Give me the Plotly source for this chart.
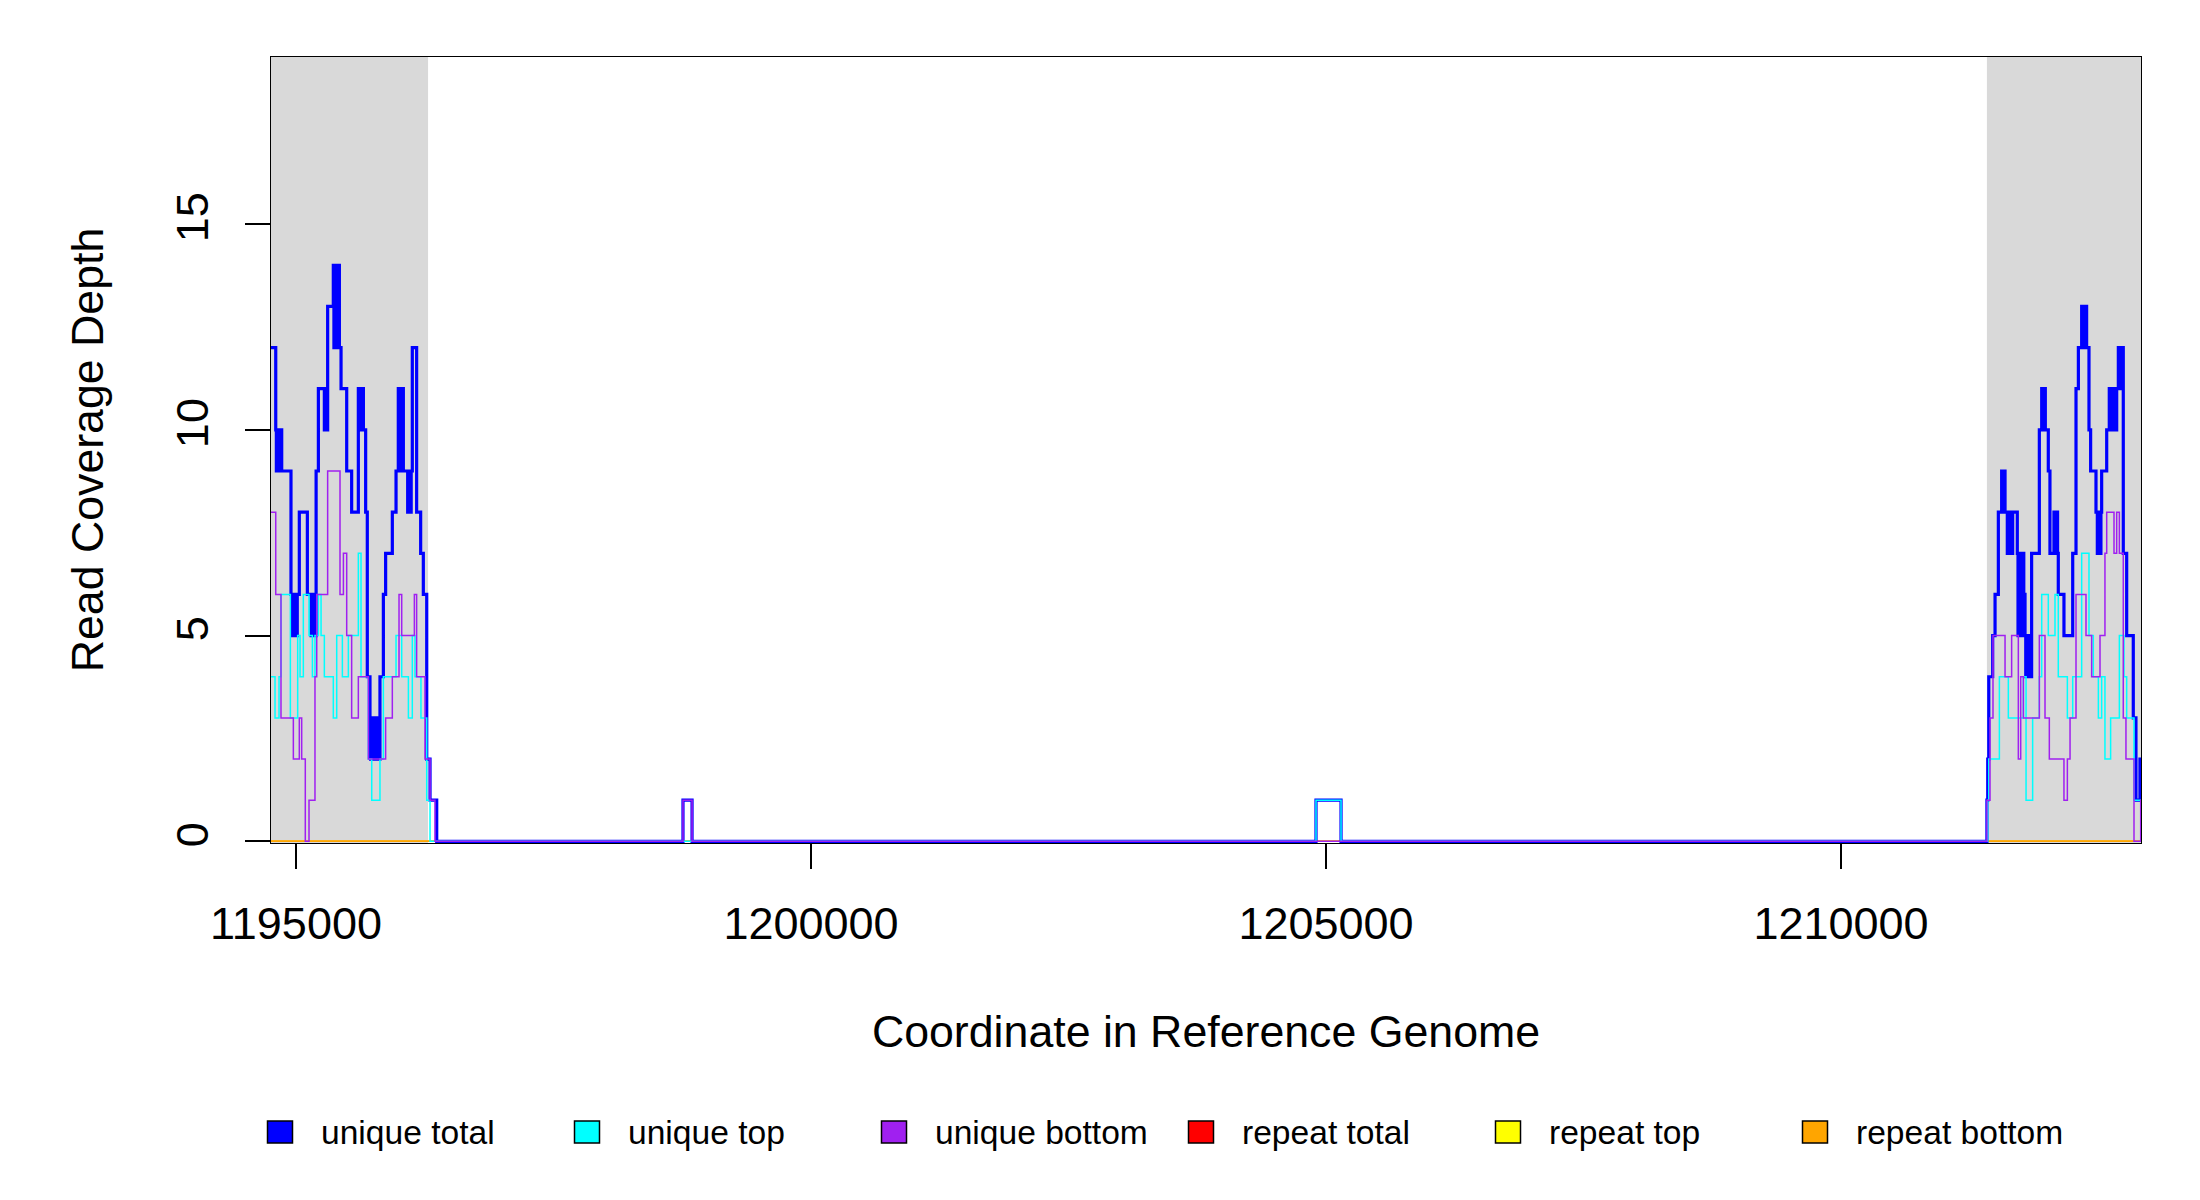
import plotly.graph_objects as go

# coverage steps (position where the depth changes, depth from there on)
unique_total_x = [
    1194757, 1194803, 1194809, 1194815, 1194821, 1194828, 1194834, 1194840, 1194847, 1194853,
    1194861, 1194951, 1194958, 1194965, 1194972, 1194980, 1194988, 1194996, 1195004, 1195012,
    1195032, 1195110, 1195146, 1195152, 1195158, 1195165, 1195172, 1195179, 1195186, 1195195,
    1195217, 1195275, 1195281, 1195287, 1195294, 1195300, 1195307, 1195362, 1195368, 1195374,
    1195380, 1195387, 1195394, 1195401, 1195408, 1195414, 1195421, 1195437, 1195492, 1195540,
    1195605, 1195611, 1195617, 1195624, 1195630, 1195637, 1195643, 1195654, 1195676, 1195692,
    1195718, 1195724, 1195731, 1195738, 1195745, 1195752, 1195759, 1195766, 1195773, 1195780,
    1195787, 1195794, 1195801, 1195808, 1195815, 1195848, 1195870, 1195935, 1195971, 1195993,
    1195999, 1196006, 1196013, 1196020, 1196027, 1196034, 1196042, 1196084, 1196090, 1196097,
    1196104, 1196111, 1196118, 1196129, 1196171, 1196210, 1196236, 1196269, 1196301, 1196366,
    1198757, 1198845, 1204903, 1205146,
    1211417, 1211425, 1211435, 1211473, 1211496, 1211528, 1211560, 1211566, 1211572, 1211579,
    1211586, 1211593, 1211615, 1211622, 1211629, 1211636, 1211643, 1211650, 1211657, 1211667,
    1211712, 1211719, 1211726, 1211733, 1211740, 1211747, 1211754, 1211761, 1211768, 1211775,
    1211781, 1211787, 1211794, 1211801, 1211808, 1211815, 1211822, 1211829, 1211835, 1211851,
    1211926, 1211949, 1211956, 1211963, 1211970, 1211977, 1211984, 1212013, 1212029, 1212068,
    1212075, 1212082, 1212089, 1212096, 1212103, 1212110, 1212165, 1212250, 1212282, 1212305,
    1212337, 1212344, 1212351, 1212358, 1212365, 1212372, 1212379, 1212385, 1212408, 1212424,
    1212476, 1212489, 1212496, 1212503, 1212510, 1212517, 1212524, 1212531, 1212580, 1212605,
    1212612, 1212619, 1212626, 1212633, 1212640, 1212647, 1212654, 1212661, 1212668, 1212677,
    1212693, 1212700, 1212707, 1212714, 1212721, 1212728, 1212734, 1212741, 1212774, 1212838,
    1212864, 1212903, 1212913,
]
unique_total_y = [
    12, 10, 9, 10, 9, 10, 9, 10, 9, 10,
    9, 6, 5, 6, 5, 6, 5, 6, 5, 6,
    8, 6, 5, 6, 5, 6, 5, 6, 5, 9,
    11, 10, 11, 10, 11, 10, 13, 14, 12, 14,
    12, 14, 12, 14, 12, 14, 12, 11, 9, 8,
    11, 10, 11, 10, 11, 10, 11, 10, 8, 4,
    3, 2, 3, 2, 3, 2, 3, 2, 3, 2,
    3, 2, 3, 2, 4, 6, 7, 8, 9, 11,
    9, 11, 9, 11, 9, 11, 9, 8, 9, 8,
    9, 8, 9, 12, 8, 7, 6, 2, 1, 0,
    1, 0, 1, 0,
    1, 2, 4, 5, 6, 8, 9, 8, 9, 8,
    9, 8, 7, 8, 7, 8, 7, 8, 7, 8,
    7, 5, 6, 5, 7, 5, 6, 5, 7, 5,
    6, 5, 4, 5, 4, 5, 4, 5, 4, 7,
    10, 11, 10, 11, 10, 11, 10, 9, 7, 8,
    7, 8, 7, 8, 7, 6, 5, 7, 11, 12,
    13, 12, 13, 12, 13, 12, 13, 12, 10, 9,
    8, 7, 8, 7, 8, 7, 8, 9, 10, 11,
    10, 11, 10, 11, 10, 11, 10, 11, 10, 11,
    12, 11, 12, 11, 12, 11, 12, 7, 5, 3,
    1, 2, 2,
]

unique_top_x = [
    1194757, 1194796, 1194835, 1194854, 1194945, 1195016, 1195039, 1195071, 1195126, 1195159,
    1195184, 1195217, 1195243, 1195275, 1195362, 1195395, 1195450, 1195508, 1195605, 1195631,
    1195702, 1195735, 1195815, 1195848, 1195971, 1196026, 1196091, 1196129, 1196155, 1196213,
    1196269, 1196301,
    1204903, 1205146,
    1211425, 1211435, 1211538, 1211625, 1211771, 1211797, 1211861, 1211926, 1211949, 1212013,
    1212078, 1212110, 1212198, 1212250, 1212337, 1212408, 1212450, 1212499, 1212531, 1212563,
    1212618, 1212703, 1212748, 1212774, 1212845, 1212913,
]
unique_top_y = [
    4, 3, 4, 6, 3, 5, 4, 6, 5, 4,
    5, 6, 5, 4, 3, 5, 4, 5, 7, 4,
    2, 1, 2, 4, 5, 4, 3, 5, 4, 3,
    1, 0,
    1, 0,
    1, 2, 4, 3, 4, 1, 3, 4, 6, 5,
    6, 4, 3, 4, 7, 5, 4, 3, 4, 2,
    3, 5, 4, 3, 1, 1,
]

unique_bottom_x = [
    1194757, 1194803, 1194854, 1194974, 1195032, 1195055, 1195090, 1195126, 1195184, 1195201,
    1195307, 1195427, 1195460, 1195492, 1195540, 1195605, 1195702, 1195870, 1195935, 1196000,
    1196026, 1196149, 1196171, 1196252, 1196301, 1196349,
    1198757, 1198845,
    1211417, 1211447, 1211476, 1211593, 1211657, 1211722, 1211745, 1211771, 1211926, 1211981,
    1212023, 1212165, 1212198, 1212224, 1212282, 1212379, 1212434, 1212515, 1212563, 1212580,
    1212651, 1212677, 1212703, 1212741, 1212767, 1212845, 1212910, 1212913,
]
unique_bottom_y = [
    8, 6, 3, 2, 3, 2, 0, 1, 4, 6,
    9, 6, 7, 5, 3, 4, 2, 3, 4, 6,
    5, 6, 4, 2, 1, 0,
    1, 0,
    1, 3, 5, 4, 5, 2, 4, 3, 5, 3,
    2, 1, 2, 3, 6, 5, 4, 5, 7, 8,
    7, 8, 7, 3, 2, 0, 1, 1,
]

repeat_x = [1194757, 1212913]
repeat_total_y = [0, 0]
repeat_top_y = [0, 0]
repeat_bottom_y = [0, 0]

# shaded spans (left and right ends of the window)
shade_spans = [(1194757, 1196282), (1211417, 1212913)]

x_range = [1194757, 1212913]
y_range = [-0.04, 19.06]
x_ticks = [1195000, 1200000, 1205000, 1210000]
y_ticks = [0, 5, 10, 15]

legend_names = ["unique total", "unique top", "unique bottom", "repeat total", "repeat top", "repeat bottom"]
legend_colors = ["#0000FF", "#00FFFF", "#A020F0", "#FF0000", "#FFFF00", "#FFA500"]

FONT = "Liberation Sans, Arial, sans-serif"
W, H = 2200, 1200
# the page puts the figure 8px in from the corner, margins allow for that
L, R, T, B = 263, 67, 49, 365

fig = go.Figure()

# repeats first so the unique lines sit on top of them
series = [
    (repeat_x, repeat_total_y, "#FF0000", 1.5),
    (repeat_x, repeat_top_y, "#FFFF00", 1.5),
    (repeat_x, repeat_bottom_y, "#FFA500", 1.5),
    (unique_total_x, unique_total_y, "#0000FF", 3.2),
    (unique_top_x, unique_top_y, "#00FFFF", 1.5),
    (unique_bottom_x, unique_bottom_y, "#A020F0", 1.5),
]
for xs, ys, col, lw in series:
    fig.add_trace(go.Scatter(
        x=xs, y=ys, mode="lines",
        line=dict(shape="hv", color=col, width=lw),
        showlegend=False, hoverinfo="skip",
    ))

shapes = []
for x0, x1 in shade_spans:
    shapes.append(dict(type="rect", xref="x", yref="paper", x0=x0, x1=x1, y0=0, y1=1,
                       fillcolor="#D9D9D9", line=dict(width=0), layer="below"))

# legend drawn R style: filled boxes with text, in one row under the plot
pw = W - L - R
ph = H - T - B
box_px = [272, 579, 886, 1193, 1500, 1807]
legend_y = 1124
annotations = []
for name, col, bx in zip(legend_names, legend_colors, box_px):
    shapes.append(dict(type="rect", xref="paper", yref="paper",
                       x0=(bx - 12.5 - L) / pw, x1=(bx + 12.5 - L) / pw,
                       y0=(H - B - legend_y - 11) / ph, y1=(H - B - legend_y + 11) / ph,
                       fillcolor=col, line=dict(color="black", width=1.5)))
    annotations.append(dict(xref="paper", yref="paper",
                            x=(bx + 39 - L) / pw, y=(H - B - legend_y) / ph,
                            text=name, showarrow=False, xanchor="left", yanchor="middle",
                            font=dict(family=FONT, size=33.6, color="black")))

fig.update_layout(
    width=W, height=H,
    margin=dict(l=L, r=R, t=T, b=B),
    paper_bgcolor="white", plot_bgcolor="white",
    shapes=shapes, annotations=annotations,
    font=dict(family=FONT, color="black"),
    showlegend=False,
)
fig.update_xaxes(
    range=x_range, tickvals=x_ticks, ticktext=[str(v) for v in x_ticks],
    ticks="outside", ticklen=25, tickwidth=1.5, tickcolor="black",
    showline=True, mirror=True, linecolor="black", linewidth=1.2,
    showgrid=False, zeroline=False, automargin=False,
    tickfont=dict(family=FONT, size=45, color="black"), ticklabelstandoff=16,
    title=dict(text="Coordinate in Reference Genome", font=dict(family=FONT, size=44.7, color="black"), standoff=67),
)
fig.update_yaxes(
    range=y_range, tickvals=y_ticks, ticktext=[str(v) for v in y_ticks], tickangle=-90,
    ticks="outside", ticklen=25, tickwidth=1.5, tickcolor="black",
    showline=True, mirror=True, linecolor="black", linewidth=1.2,
    showgrid=False, zeroline=False, automargin=False,
    tickfont=dict(family=FONT, size=45, color="black"), ticklabelstandoff=19,
    title=dict(text="Read Coverage Depth", font=dict(family=FONT, size=44.7, color="black"), standoff=49),
)

fig.write_html("out.html")
